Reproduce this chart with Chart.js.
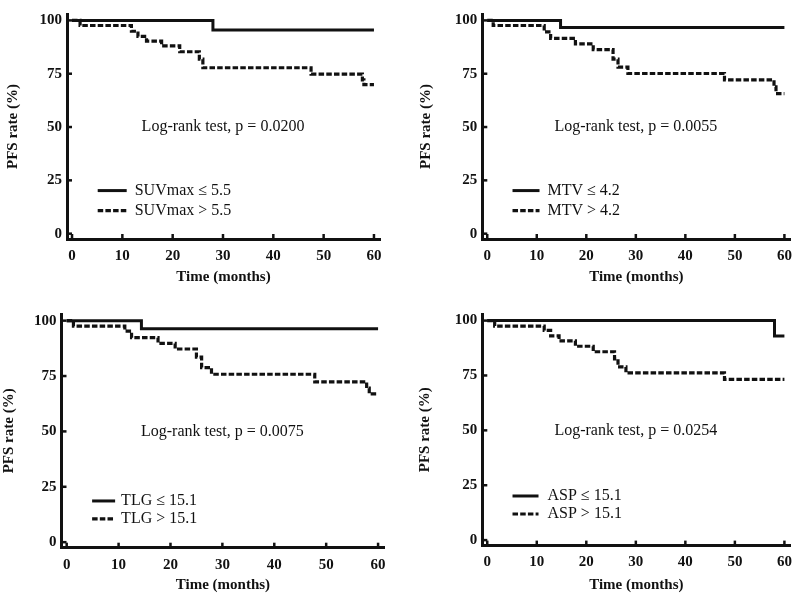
<!DOCTYPE html>
<html lang="en">
<head>
<meta charset="UTF-8">
<title>PFS curves</title>
<script src="https://cdn.jsdelivr.net/npm/chart.js"></script>
<style>
  body { margin: 0; background: #fff; }
  #wrap { position: relative; width: 800px; height: 595px; }
  canvas { position: absolute; }
</style>
</head>
<body>
<div id="wrap">
  <canvas id="c1" width="400" height="300" style="left:0;top:0"></canvas>
  <canvas id="c2" width="400" height="300" style="left:400px;top:0"></canvas>
  <canvas id="c3" width="400" height="295" style="left:0;top:300px"></canvas>
  <canvas id="c4" width="400" height="295" style="left:400px;top:300px"></canvas>
</div>
<script>
// months where a curve steps down, and the PFS rate (%) from there on
var suvLowT  = [0, 28, 60]
var suvLowY  = [100, 95.5, 95.5]
var suvHighT = [0, 1.6, 11.8, 13.1, 14.8, 17.8, 21.4, 25.3, 26, 47.5, 57.7, 58, 60]
var suvHighY = [100, 97.6, 94.9, 92.5, 90.3, 88.1, 85.3, 81.8, 77.8, 74.8, 72.1, 69.9, 69.9]

var mtvLowT  = [0, 14.8, 60]
var mtvLowY  = [100, 96.7, 96.7]
var mtvHighT = [0, 1.2, 11.5, 12.8, 17.8, 21.4, 25.4, 26.4, 28.4, 47.9, 57.9, 58.3, 60]
var mtvHighY = [100, 97.6, 94.6, 91.6, 89, 86.3, 81.8, 78.1, 75.1, 72.1, 68.8, 65.7, 65.7]

var tlgLowT  = [0, 14.4, 60]
var tlgLowY  = [100, 96.3, 96.3]
var tlgHighT = [0, 1.3, 11.2, 12.5, 17.6, 20.9, 25, 26, 27.9, 47.8, 57.8, 58.3, 59.7]
var tlgHighY = [100, 97.5, 95.3, 92.3, 89.7, 87.2, 83.5, 78.8, 75.8, 72.4, 69.5, 66.9, 66.9]

var aspLowT  = [0, 58, 60]
var aspLowY  = [100, 93, 93]
var aspHighT = [0, 1.5, 11.5, 12.8, 14.5, 17.8, 21.4, 25.7, 26.4, 28, 47.9, 60]
var aspHighY = [100, 97.5, 95.5, 93, 90.8, 88.3, 85.8, 82.6, 78.9, 76.2, 73.2, 73.2]

var groupLabels = [
  ['SUVmax \u2264 5.5', 'SUVmax > 5.5'],
  ['MTV \u2264 4.2', 'MTV > 4.2'],
  ['TLG \u2264 15.1', 'TLG > 15.1'],
  ['ASP \u2264 15.1', 'ASP > 15.1']
]
var pValues = ['0.0200', '0.0055', '0.0075', '0.0254']

var xTicks = [0, 10, 20, 30, 40, 50, 60]
var yTicks = [0, 25, 50, 75, 100]

var ink = '#111'
Chart.defaults.font.family = '"Liberation Serif", "Times New Roman", serif'
Chart.defaults.color = ink

function pts(t, y) {
  return t.map(function (v, i) { return { x: v, y: y[i] } })
}

// inward tick marks, log-rank note and the little key inside the plot
var kmDecor = {
  id: 'kmDecor',
  afterDraw: function (chart, args, o) {
    var ctx = chart.ctx, xs = chart.scales.x, ys = chart.scales.y
    ctx.save()
    ctx.strokeStyle = ink
    ctx.fillStyle = ink
    ctx.lineWidth = 2.5
    xTicks.forEach(function (v) {
      var px = xs.getPixelForValue(v)
      ctx.beginPath(); ctx.moveTo(px, ys.bottom); ctx.lineTo(px, ys.bottom - 5); ctx.stroke()
    })
    yTicks.forEach(function (v) {
      var py = ys.getPixelForValue(v)
      ctx.beginPath(); ctx.moveTo(xs.left, py); ctx.lineTo(xs.left + 5, py); ctx.stroke()
    })

    ctx.font = '16px "Liberation Serif"'
    ctx.textAlign = 'center'
    ctx.textBaseline = 'middle'
    ctx.fillText(o.note, xs.getPixelForValue(o.noteAt[0]), ys.getPixelForValue(o.noteAt[1]))

    var lx = xs.getPixelForValue(o.keyAt[0]), ly = ys.getPixelForValue(o.keyAt[1])
    ctx.textAlign = 'left'
    chart.data.datasets.forEach(function (ds, i) {
      var y = ly + i * o.keyGap
      ctx.setLineDash(ds.borderDash || [])
      ctx.lineWidth = ds.borderWidth
      ctx.beginPath(); ctx.moveTo(lx, y); ctx.lineTo(lx + o.keyLen, y); ctx.stroke()
      ctx.setLineDash([])
      ctx.fillText(ds.label, lx + o.keyLen + o.keyPad, y)
    })
    ctx.restore()
  }
}

function kmChart(p) {
  var cv = document.getElementById(p.id)
  var W = cv.width, H = cv.height
  return new Chart(cv, {
    type: 'line',
    data: {
      datasets: [{
        label: p.labels[0],
        data: pts(p.lowT, p.lowY),
        stepped: 'before',
        borderColor: ink,
        borderWidth: 3,
        pointRadius: 0,
        fill: false
      }, {
        label: p.labels[1],
        data: pts(p.highT, p.highY),
        stepped: 'before',
        borderColor: ink,
        borderWidth: 3.2,
        borderDash: [5.5, 2.2],
        pointRadius: 0,
        fill: false
      }]
    },
    options: {
      responsive: false,
      animation: false,
      layout: {
        autoPadding: false,
        padding: { left: p.padLeft, top: p.top, right: W - p.right, bottom: p.padBottom }
      },
      plugins: {
        legend: { display: false },
        tooltip: { enabled: false },
        kmDecor: {
          note: 'Log-rank test, p = ' + p.pval,
          noteAt: [30, 50],
          keyAt: p.keyAt,
          keyGap: p.keyGap,
          keyLen: p.keyLen,
          keyPad: p.keyPad
        }
      },
      scales: {
        x: {
          type: 'linear',
          min: -1,
          max: 61.2,
          grid: { display: false, drawTicks: false },
          border: { display: true, color: ink, width: 3 },
          afterBuildTicks: function (s) { s.ticks = xTicks.map(function (v) { return { value: v } }) },
          afterFit: function (s) { s.height = H - p.padBottom - p.bottom },
          ticks: { padding: 8, font: { size: 15, weight: 'bold' }, color: ink },
          title: {
            display: true, text: 'Time (months)', color: ink,
            font: { size: 15, weight: 'bold' },
            padding: { top: 0, bottom: p.xTitlePad }
          }
        },
        y: {
          type: 'linear',
          min: -2.5,
          max: 103,
          grid: { display: false, drawTicks: false },
          border: { display: true, color: ink, width: 3 },
          afterBuildTicks: function (s) { s.ticks = yTicks.map(function (v) { return { value: v } }) },
          afterFit: function (s) { s.width = p.left - p.padLeft },
          ticks: { padding: 5, font: { size: 15, weight: 'bold' }, color: ink },
          title: {
            display: true, text: 'PFS rate (%)', color: ink,
            font: { size: 15, weight: 'bold' },
            padding: { top: p.yTitlePad, bottom: 0 }
          }
        }
      }
    },
    plugins: [kmDecor]
  })
}

kmChart({ id: 'c1', lowT: suvLowT, lowY: suvLowY, highT: suvHighT, highY: suvHighY,
  labels: groupLabels[0], pval: pValues[0],
  left: 67, right: 380, top: 2.6, bottom: 239, padLeft: 0, padBottom: 10, xTitlePad: 4, yTitlePad: 4,
  keyAt: [5.1, 20.2], keyGap: 20, keyLen: 29, keyPad: 8 })

kmChart({ id: 'c2', lowT: mtvLowT, lowY: mtvLowY, highT: mtvHighT, highY: mtvHighY,
  labels: groupLabels[1], pval: pValues[1],
  left: 82.3, right: 395.3, top: 2.6, bottom: 239, padLeft: 13, padBottom: 10, xTitlePad: 4, yTitlePad: 4,
  keyAt: [5.1, 20.2], keyGap: 20, keyLen: 27, keyPad: 8 })

kmChart({ id: 'c3', lowT: tlgLowT, lowY: tlgLowY, highT: tlgHighT, highY: tlgHighY,
  labels: groupLabels[2], pval: pValues[2],
  left: 61.5, right: 384.3, top: 9.2, bottom: 247.7, padLeft: 0, padBottom: 0, xTitlePad: 1, yTitlePad: 0,
  keyAt: [4.9, 18.6], keyGap: 18, keyLen: 23, keyPad: 6 })

kmChart({ id: 'c4', lowT: aspLowT, lowY: aspLowY, highT: aspHighT, highY: aspHighY,
  labels: groupLabels[3], pval: pValues[3],
  left: 82.3, right: 395.3, top: 9.3, bottom: 245.6, padLeft: 12, padBottom: 0, xTitlePad: 1, yTitlePad: 4,
  keyAt: [5.1, 20.1], keyGap: 18, keyLen: 26, keyPad: 9 })
</script>
</body>
</html>
